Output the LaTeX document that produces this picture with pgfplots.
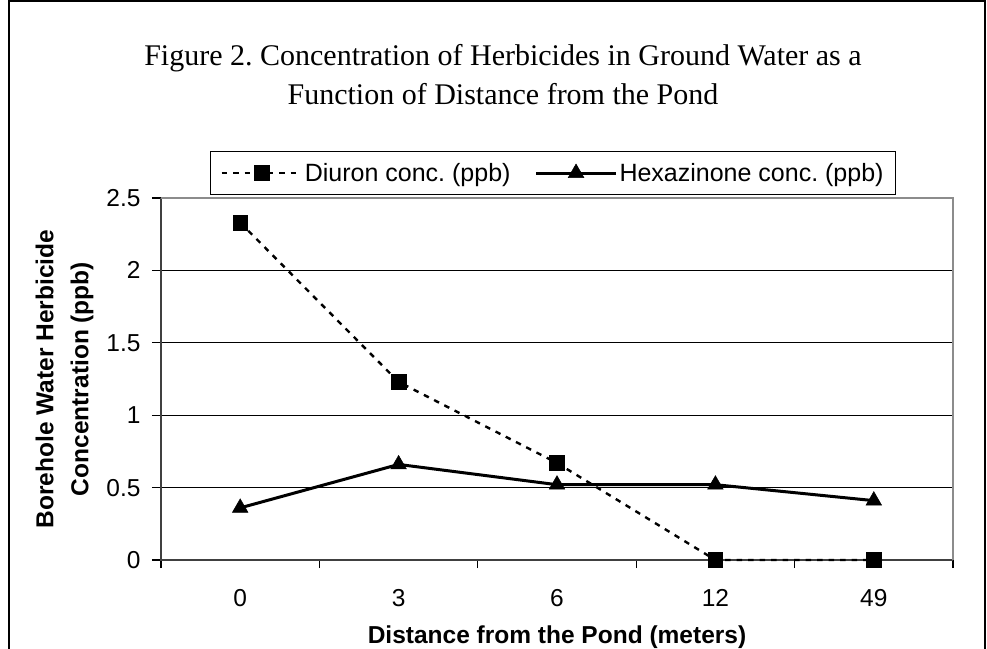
\documentclass[border=0pt]{standalone}
\usepackage{fontspec}
\setmainfont{Liberation Serif}
\setsansfont{Liberation Sans}
\usepackage{pgfplots}
\pgfplotsset{compat=1.18}
\begin{document}
\frenchspacing
\begin{tikzpicture}[x=1pt,y=1pt]
\useasboundingbox (0,0) rectangle (987,648);
\draw[line width=1.5pt] (9,-5) -- (9,647.2) -- (985.2,647.2) -- (985.2,-5);
\node[font=\fontsize{30}{36}\selectfont, anchor=base, inner sep=0pt] at (503,582) {Figure 2. Concentration of Herbicides in Ground Water as a};
\node[font=\fontsize{30}{36}\selectfont, anchor=base, inner sep=0pt] at (503,543) {Function of Distance from the Pond};
\begin{axis}[
  at={(161pt,88pt)}, anchor=south west,
  width=792pt, height=362pt, scale only axis,
  xmin=-0.5, xmax=4.5, ymin=0, ymax=2.5,
  clip=false,
  axis line style={draw=none},
  xtick pos=bottom, ytick pos=left,
  xtick={0,1,2,3,4}, xticklabels={0,3,6,12,49},
  minor xtick={-0.5,0.5,1.5,2.5,3.5,4.5},
  major x tick style={draw=none},
  ytick={0,0.5,1,1.5,2,2.5},
  tick align=outside,
  major tick length=9pt, minor tick length=8pt,
  tick style={black, line width=1.2pt},
  ymajorgrids, grid style={black, line width=1.1pt},
  /pgf/number format/assume math mode=true,
  ticklabel style={font=\sffamily\fontsize{24.5}{29}\selectfont},
  yticklabel style={anchor=east, xshift=-8pt},
  xticklabel style={anchor=north, yshift=-17pt},
  every axis y label/.style={at={(rel axis cs:-0.1218,0.5)}, rotate=90, anchor=center, align=center, font=\sffamily\bfseries\fontsize{24.5}{35}\selectfont},
  every axis x label/.style={at={(rel axis cs:0.5,0)}, anchor=center, yshift=-77pt, font=\sffamily\bfseries\fontsize{24.5}{29}\selectfont},
  ylabel={Borehole Water Herbicide\\Concentration (ppb)},
  xlabel={Distance from the Pond (meters)},
  legend style={at={(0.495,1.069)}, anchor=center, legend columns=-1, draw=black, line width=1.2pt,
    font=\sffamily\fontsize{25}{30}\selectfont, inner xsep=10pt, inner ysep=10pt,
    /tikz/every even column/.append style={column sep=22pt}},
  legend image code/.code={\draw[mark repeat=2,mark phase=2,#1] plot coordinates {(0pt,0pt) (40pt,0pt) (80pt,0pt)};},
]
\draw[black!75, line width=2pt] (rel axis cs:0,1) -- (rel axis cs:0,0) -- (rel axis cs:1,0);
\draw[black!45, line width=2pt] (rel axis cs:0,1) -- (rel axis cs:1,1) -- (rel axis cs:1,0);
\addplot[black, line width=2.4pt, dash pattern=on 5.5pt off 6pt, mark=square*, mark size=7.3pt, mark options={solid, line width=0.5pt}]
  coordinates {(0,2.33) (1,1.23) (2,0.67) (3,0) (4,0)};
\addlegendentry{Diuron conc. (ppb)}
\addplot[black, line width=3pt, mark=triangle*, mark size=9pt, mark options={solid, line width=0.5pt}]
  coordinates {(0,0.36) (1,0.66) (2,0.52) (3,0.52) (4,0.41)};
\addlegendentry{Hexazinone conc. (ppb)}
\end{axis}
\end{tikzpicture}
\end{document}
